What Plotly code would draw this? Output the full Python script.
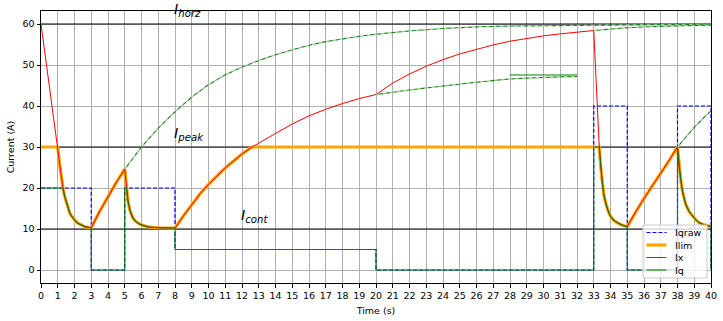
import plotly.graph_objects as go

# ---------------- data ----------------
iqraw_t = [0, 3, 5, 8, 20, 33, 35, 38, 40]
iqraw_v = [20, 0, 20, 5, 0, 40, 0, 40, 0]

decay1_t = [1.0, 1.1, 1.2, 1.3, 1.4, 1.5, 1.6, 1.7, 1.8, 1.9, 2.0, 2.2, 2.4, 2.6, 2.8, 3.0]
decay1_v = [30.0, 26.0, 22.8, 20.3, 18.2, 16.6, 15.1, 14.1, 13.3, 12.7, 12.2, 11.4, 10.9, 10.6, 10.4, 10.3]
rise1_t = [3.0, 3.5, 4.0, 4.5, 5.0]
rise1_v = [10.3, 14.3, 18.0, 21.4, 24.6]
decay2_t = [5.0, 5.1, 5.2, 5.3, 5.4, 5.5, 5.6, 5.8, 6.0, 6.4, 7.0, 8.0]
decay2_v = [24.6, 20.0, 16.6, 14.6, 13.4, 12.6, 12.1, 11.4, 11.0, 10.5, 10.3, 10.2]
rise2_t = [8.0, 8.5, 9.0, 9.5, 10.0, 10.5, 11.0, 11.5, 12.0, 12.6]
rise2_v = [10.2, 13.2, 16.0, 18.6, 20.9, 23.0, 24.9, 26.6, 28.3, 30.0]
ixhigh_t = [13, 13.5, 14, 15, 16, 17, 18, 19, 20, 21, 22, 23, 24, 25, 26, 27, 28, 29, 30, 31, 32, 33]
ixhigh_v = [31.0, 32.2, 33.3, 35.6, 37.6, 39.2, 40.6, 41.8, 42.8, 45.6, 47.8, 49.7, 51.3, 52.7,
            53.8, 54.9, 55.8, 56.5, 57.1, 57.6, 58.0, 58.4]
decay3_t = [33.33, 33.4, 33.5, 33.6, 33.7, 33.8, 33.9, 34.0, 34.2, 34.4, 34.6, 34.8, 35.0]
decay3_v = [30.0, 25.7, 21.6, 18.4, 16.5, 15.1, 14.0, 13.1, 12.1, 11.5, 11.1, 10.8, 10.6]
rise3_t = [35.0, 35.5, 36.0, 36.5, 37.0, 37.5, 38.0]
rise3_v = [10.6, 14.2, 17.5, 20.6, 23.6, 26.7, 30.0]
decay4_t = [38.0, 38.1, 38.2, 38.3, 38.4, 38.5, 38.7, 38.9, 39.1, 39.3, 39.6, 40.0]
decay4_v = [30.0, 24.9, 21.8, 19.2, 17.3, 15.9, 14.2, 13.1, 12.2, 11.5, 11.0, 10.6]

ix_start_t = [0.0]
ix_start_v = [60.0]
ilim_start_t = [0.0]
ilim_start_v = [30.0]

iq_t = ([0, 1.31] + decay1_t[4:] + [3.0, 5.0, 5.0] + decay2_t[1:] + [8.0, 20, 20, 33, 33]
        + decay3_t + [35, 38] + decay4_t + [40])
iq_v = ([20, 20] + decay1_v[4:] + [0, 0, 20] + decay2_v[1:] + [5, 5, 0, 0, 30]
        + decay3_v + [0, 0] + decay4_v + [0])

proj1_t = [5, 6, 7, 8, 9, 10, 11, 12, 13, 14, 15, 16, 17, 18, 19, 20, 22, 24, 26, 28, 30, 33, 36, 40]
proj1_v = [24.6, 30.0, 34.6, 38.6, 42.2, 45.2, 47.6, 49.5, 51.1, 52.5, 53.7, 54.8, 55.7, 56.4,
           57.0, 57.5, 58.3, 58.9, 59.3, 59.5, 59.6, 59.7, 59.8, 59.85]
proj2_t = [20, 21, 22, 23, 24, 25, 26, 27, 28, 29, 30, 31, 32]
proj2_v = [42.8, 43.4, 43.9, 44.4, 44.9, 45.4, 45.8, 46.2, 46.6, 46.8, 47.0, 47.1, 47.2]
proj3_t = [33, 34, 35, 36, 37, 38, 39, 40]
proj3_v = [58.4, 58.8, 59.1, 59.3, 59.45, 59.55, 59.65, 59.7]
proj4_t = [38, 38.5, 39, 39.5, 40]
proj4_v = [30, 32.5, 34.8, 36.9, 38.8]
mark_t = [28, 32]
mark_v = [47.55, 47.55]

ref_levels = [10, 30, 60]
ref_names = ["cont", "peak", "horz"]
ref_label_x = [12, 8, 8]

x_ticks = list(range(0, 41))
y_ticks = [0, 10, 20, 30, 40, 50, 60]

series_names = ["Iqraw", "Ilim", "Ix", "Iq"]

# ---------------- assemble series ----------------
ix_t = ix_start_t + decay1_t + rise1_t[1:] + decay2_t[1:] + rise2_t[1:] + ixhigh_t + decay3_t + rise3_t[1:] + decay4_t[1:]
ix_v = ix_start_v + decay1_v + rise1_v[1:] + decay2_v[1:] + rise2_v[1:] + ixhigh_v + decay3_v + rise3_v[1:] + decay4_v[1:]
ilim_t = ilim_start_t + decay1_t + rise1_t[1:] + decay2_t[1:] + rise2_t[1:] + decay3_t + rise3_t[1:] + decay4_t[1:]
ilim_v = ilim_start_v + decay1_v + rise1_v[1:] + decay2_v[1:] + rise2_v[1:] + decay3_v + rise3_v[1:] + decay4_v[1:]

FONT = "DejaVu Sans"
styles = {
    "Iqraw": dict(color="#0000ff", width=1.2, dash="4px,2px"),
    "Ilim": dict(color="#ffa500", width=3.2),
    "Ix": dict(color="#ff0000", width=1),
    "Iq": dict(color="#008000", width=1.1),
}

fig = go.Figure()

# reference levels (under everything)
for lv in ref_levels:
    fig.add_trace(go.Scatter(x=[x_ticks[0], x_ticks[-1]], y=[lv, lv], mode="lines",
                             line=dict(color="black", width=1), showlegend=False, hoverinfo="skip"))

fig.add_trace(go.Scatter(x=iqraw_t, y=iqraw_v, mode="lines", name="Iqraw", line_shape="hv",
                         line=styles["Iqraw"], showlegend=False))
fig.add_trace(go.Scatter(x=ilim_t, y=ilim_v, mode="lines", name="Ilim",
                         line=styles["Ilim"], showlegend=False))
fig.add_trace(go.Scatter(x=ix_t, y=ix_v, mode="lines", name="Ix",
                         line=styles["Ix"], showlegend=False))
fig.add_trace(go.Scatter(x=iq_t, y=iq_v, mode="lines", name="Iq",
                         line=styles["Iq"], opacity=0.9, showlegend=False))

for pt, pv in [(proj1_t, proj1_v), (proj2_t, proj2_v), (proj3_t, proj3_v), (proj4_t, proj4_v)]:
    fig.add_trace(go.Scatter(x=pt, y=pv, mode="lines", showlegend=False, hoverinfo="skip",
                             line=dict(color="#8fcc8f", width=1.3, dash="4px,3px")))
    fig.add_trace(go.Scatter(x=pt, y=pv, mode="lines", showlegend=False, hoverinfo="skip",
                             line=dict(color="#1a7a1a", width=1.1, dash="0px,3.5px,3.5px,0px")))

fig.add_trace(go.Scatter(x=mark_t, y=mark_v, mode="lines", showlegend=False, hoverinfo="skip",
                         line=dict(color="#008000", width=1.1)))

for lv, nm, lx in zip(ref_levels, ref_names, ref_label_x):
    fig.add_annotation(x=lx, y=lv, text="<i>I</i><sub><i>%s</i></sub>" % nm, showarrow=False,
                       xanchor="left", yanchor="bottom", xshift=-3, yshift=2.5,
                       font=dict(family=FONT, size=14.5, color="black"))

# ---------------- legend box (lower right, matplotlib style) ----------------
PL, PR, PT, PB = 41, 711, 11, 283
def px_x(p):
    return (p - PL) / (PR - PL)
def px_y(p):
    return (PB - p) / (PB - PT)

fig.add_shape(type="rect", xref="paper", yref="paper",
              x0=px_x(643), x1=px_x(707), y0=px_y(278), y1=px_y(225),
              fillcolor="rgba(255,255,255,0.8)", line=dict(color="#cccccc", width=1), layer="above")
row_y = [232.5, 245.0, 257.5, 270.0]
for nm, ry in zip(series_names, row_y):
    st = styles[nm]
    fig.add_shape(type="line", xref="paper", yref="paper",
                  x0=px_x(646.5), x1=px_x(666.5), y0=px_y(ry), y1=px_y(ry),
                  line=dict(color=st["color"], width=st["width"], dash=st.get("dash", "solid")),
                  layer="above")
    fig.add_annotation(xref="paper", yref="paper", x=px_x(673.5), y=px_y(ry), text=nm,
                       showarrow=False, xanchor="left", yanchor="middle", borderpad=0,
                       font=dict(family=FONT, size=9.5, color="black"))

axis_common = dict(showline=True, mirror=True, linecolor="black", linewidth=1,
                   ticks="outside", ticklen=3.5, tickcolor="black", tickwidth=1,
                   showgrid=True, gridcolor="#b0b0b0", gridwidth=1, zeroline=False,
                   tickfont=dict(family=FONT, size=9.5, color="black"))

fig.update_layout(
    width=723, height=321,
    margin=dict(l=PL, r=723 - PR, t=PT, b=321 - PB),
    paper_bgcolor="white", plot_bgcolor="white",
    font=dict(family=FONT, size=9.5, color="black"),
    xaxis=dict(range=[0, 40], tickvals=x_ticks, ticktext=[str(v) for v in x_ticks],
               title=dict(text="Time (s)", standoff=7, font=dict(family=FONT, size=9.5)),
               automargin=False, **axis_common),
    yaxis=dict(range=[-3.17, 63.17], tickvals=y_ticks,
               title=dict(text="Current (A)", standoff=6, font=dict(family=FONT, size=9.5)),
               automargin=False, **axis_common),
    showlegend=False,
)

fig.write_html("out.html")
